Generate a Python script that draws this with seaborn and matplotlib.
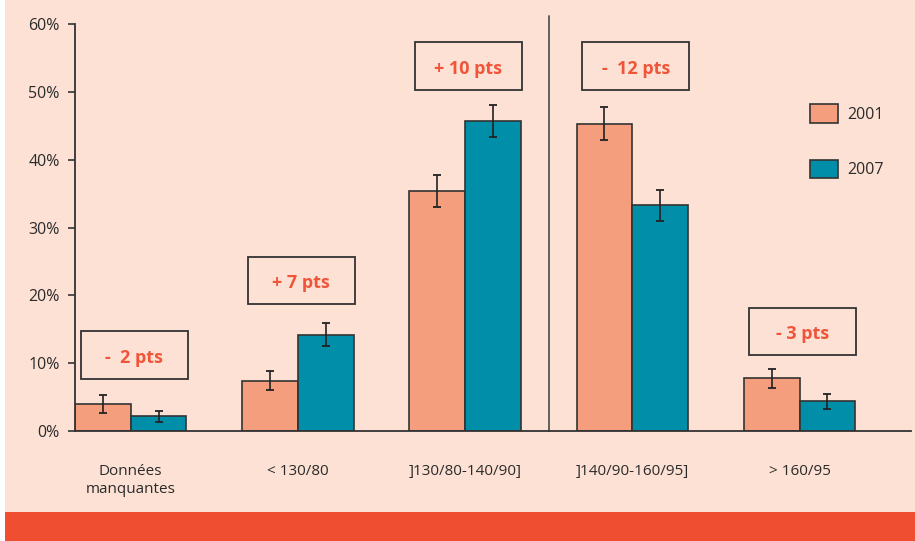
import matplotlib
matplotlib.use("Agg")
import matplotlib.pyplot as plt
import matplotlib.patches as mpatches
import seaborn as sns
import pandas as pd
import numpy as np

# Données
categories = ["Données\nmanquantes", "< 130/80", "]130/80-140/90]", "]140/90-160/95]", "> 160/95"]
years = ["2001", "2007"]
vals_2001 = [4.0, 7.4, 35.4, 45.3, 7.8]
vals_2007 = [2.2, 14.2, 45.7, 33.3, 4.4]
err_2001 = [1.3, 1.4, 2.4, 2.4, 1.4]
err_2007 = [0.8, 1.7, 2.4, 2.3, 1.1]
diff_labels = ["-  2 pts", "+ 7 pts", "+ 10 pts", "-  12 pts", "- 3 pts"]
diff_box_y = [7.7, 18.7, 50.3, 50.3, 11.2]  # bas de chaque encadré (%)

BG = "#fde1d4"
C2001 = "#f59e7e"
C2007 = "#008ea9"
RED = "#f0553a"
TXT = "#2b2b2b"

df = pd.DataFrame({
    "cat": categories * 2,
    "year": [years[0]] * 5 + [years[1]] * 5,
    "val": vals_2001 + vals_2007,
})

sns.set_style("white")
plt.rcParams["font.family"] = ["Open Sans", "DejaVu Sans"]

fig = plt.figure(figsize=(9.15, 5.41), dpi=100)
fig.patch.set_facecolor(BG)
ax = fig.add_axes([75 / 915, 1 - 431 / 541, 836 / 915, 407 / 541])
ax.set_facecolor(BG)

sns.barplot(data=df, x="cat", y="val", hue="year", order=categories,
            hue_order=years, palette=[C2001, C2007], width=2 / 3,
            saturation=1, edgecolor="#333333", linewidth=1.2,
            legend=False, ax=ax)

# barres d'erreur
errs = err_2001 + err_2007
for p, v, e in zip(ax.patches[:10], vals_2001 + vals_2007, errs):
    xc = p.get_x() + p.get_width() / 2
    ax.errorbar(xc, v, yerr=e, fmt="none", ecolor="#222222",
                elinewidth=1.2, capsize=3, capthick=1.3, zorder=5)

ax.set_xlim(-1 / 3, 4 + 2 / 3)
ax.set_ylim(0, 60)
ax.set_yticks(range(0, 61, 10))
ax.set_yticklabels([f"{t}%" for t in range(0, 61, 10)], fontsize=11.5, color=TXT)
ax.set_xticks(range(5))
ax.set_xticklabels(categories, fontsize=11, color=TXT)
ax.set_xticks(np.arange(6) - 1 / 3, minor=True)
ax.tick_params(axis="x", which="major", length=0, pad=24)
ax.tick_params(axis="x", which="minor", length=5, width=1.2, color="#333333")
ax.tick_params(axis="y", length=5, width=1.2, color="#333333", pad=6, left=True)
ax.set_xlabel("")
ax.set_ylabel("")
for s in ["top", "right"]:
    ax.spines[s].set_visible(False)
for s in ["left", "bottom"]:
    ax.spines[s].set_color("#333333")
    ax.spines[s].set_linewidth(1.3)

# ligne de séparation verticale
ax.plot([2.5, 2.5], [0, 61.2], color="#555555", lw=1.3, clip_on=False)

# encadrés avec les écarts
for i, (lab, yb) in enumerate(zip(diff_labels, diff_box_y)):
    ax.add_patch(mpatches.Rectangle((i - 0.30, yb), 0.64, 7.0, fill=False,
                                    edgecolor="#333333", lw=1.3, zorder=4))
    ax.text(i + 0.02, yb + 3.1, lab, ha="center", va="center", fontsize=13,
            fontweight="bold", color=RED, zorder=6)

# légende
handles = [mpatches.Patch(facecolor=C2001, edgecolor="#333333", lw=1.2, label="2001"),
           mpatches.Patch(facecolor=C2007, edgecolor="#333333", lw=1.2, label="2007")]
leg = fig.legend(handles=handles, loc="upper left",
                 bbox_to_anchor=(796 / 915, 1 - 90 / 541), frameon=False,
                 fontsize=11.5, handlelength=1.7, handleheight=1.4,
                 labelspacing=2.3, handletextpad=0.6)
for t in leg.get_texts():
    t.set_color(TXT)

# bande orange en bas
fig.add_artist(mpatches.Rectangle((5 / 915, 0), 1, 29 / 541, transform=fig.transFigure,
                                  facecolor="#f04e30", edgecolor="none"))
fig.add_artist(mpatches.Rectangle((0, 0), 5 / 915, 1, transform=fig.transFigure,
                                  facecolor="white", edgecolor="none"))

fig.savefig("out.png", dpi=100, facecolor=BG)
